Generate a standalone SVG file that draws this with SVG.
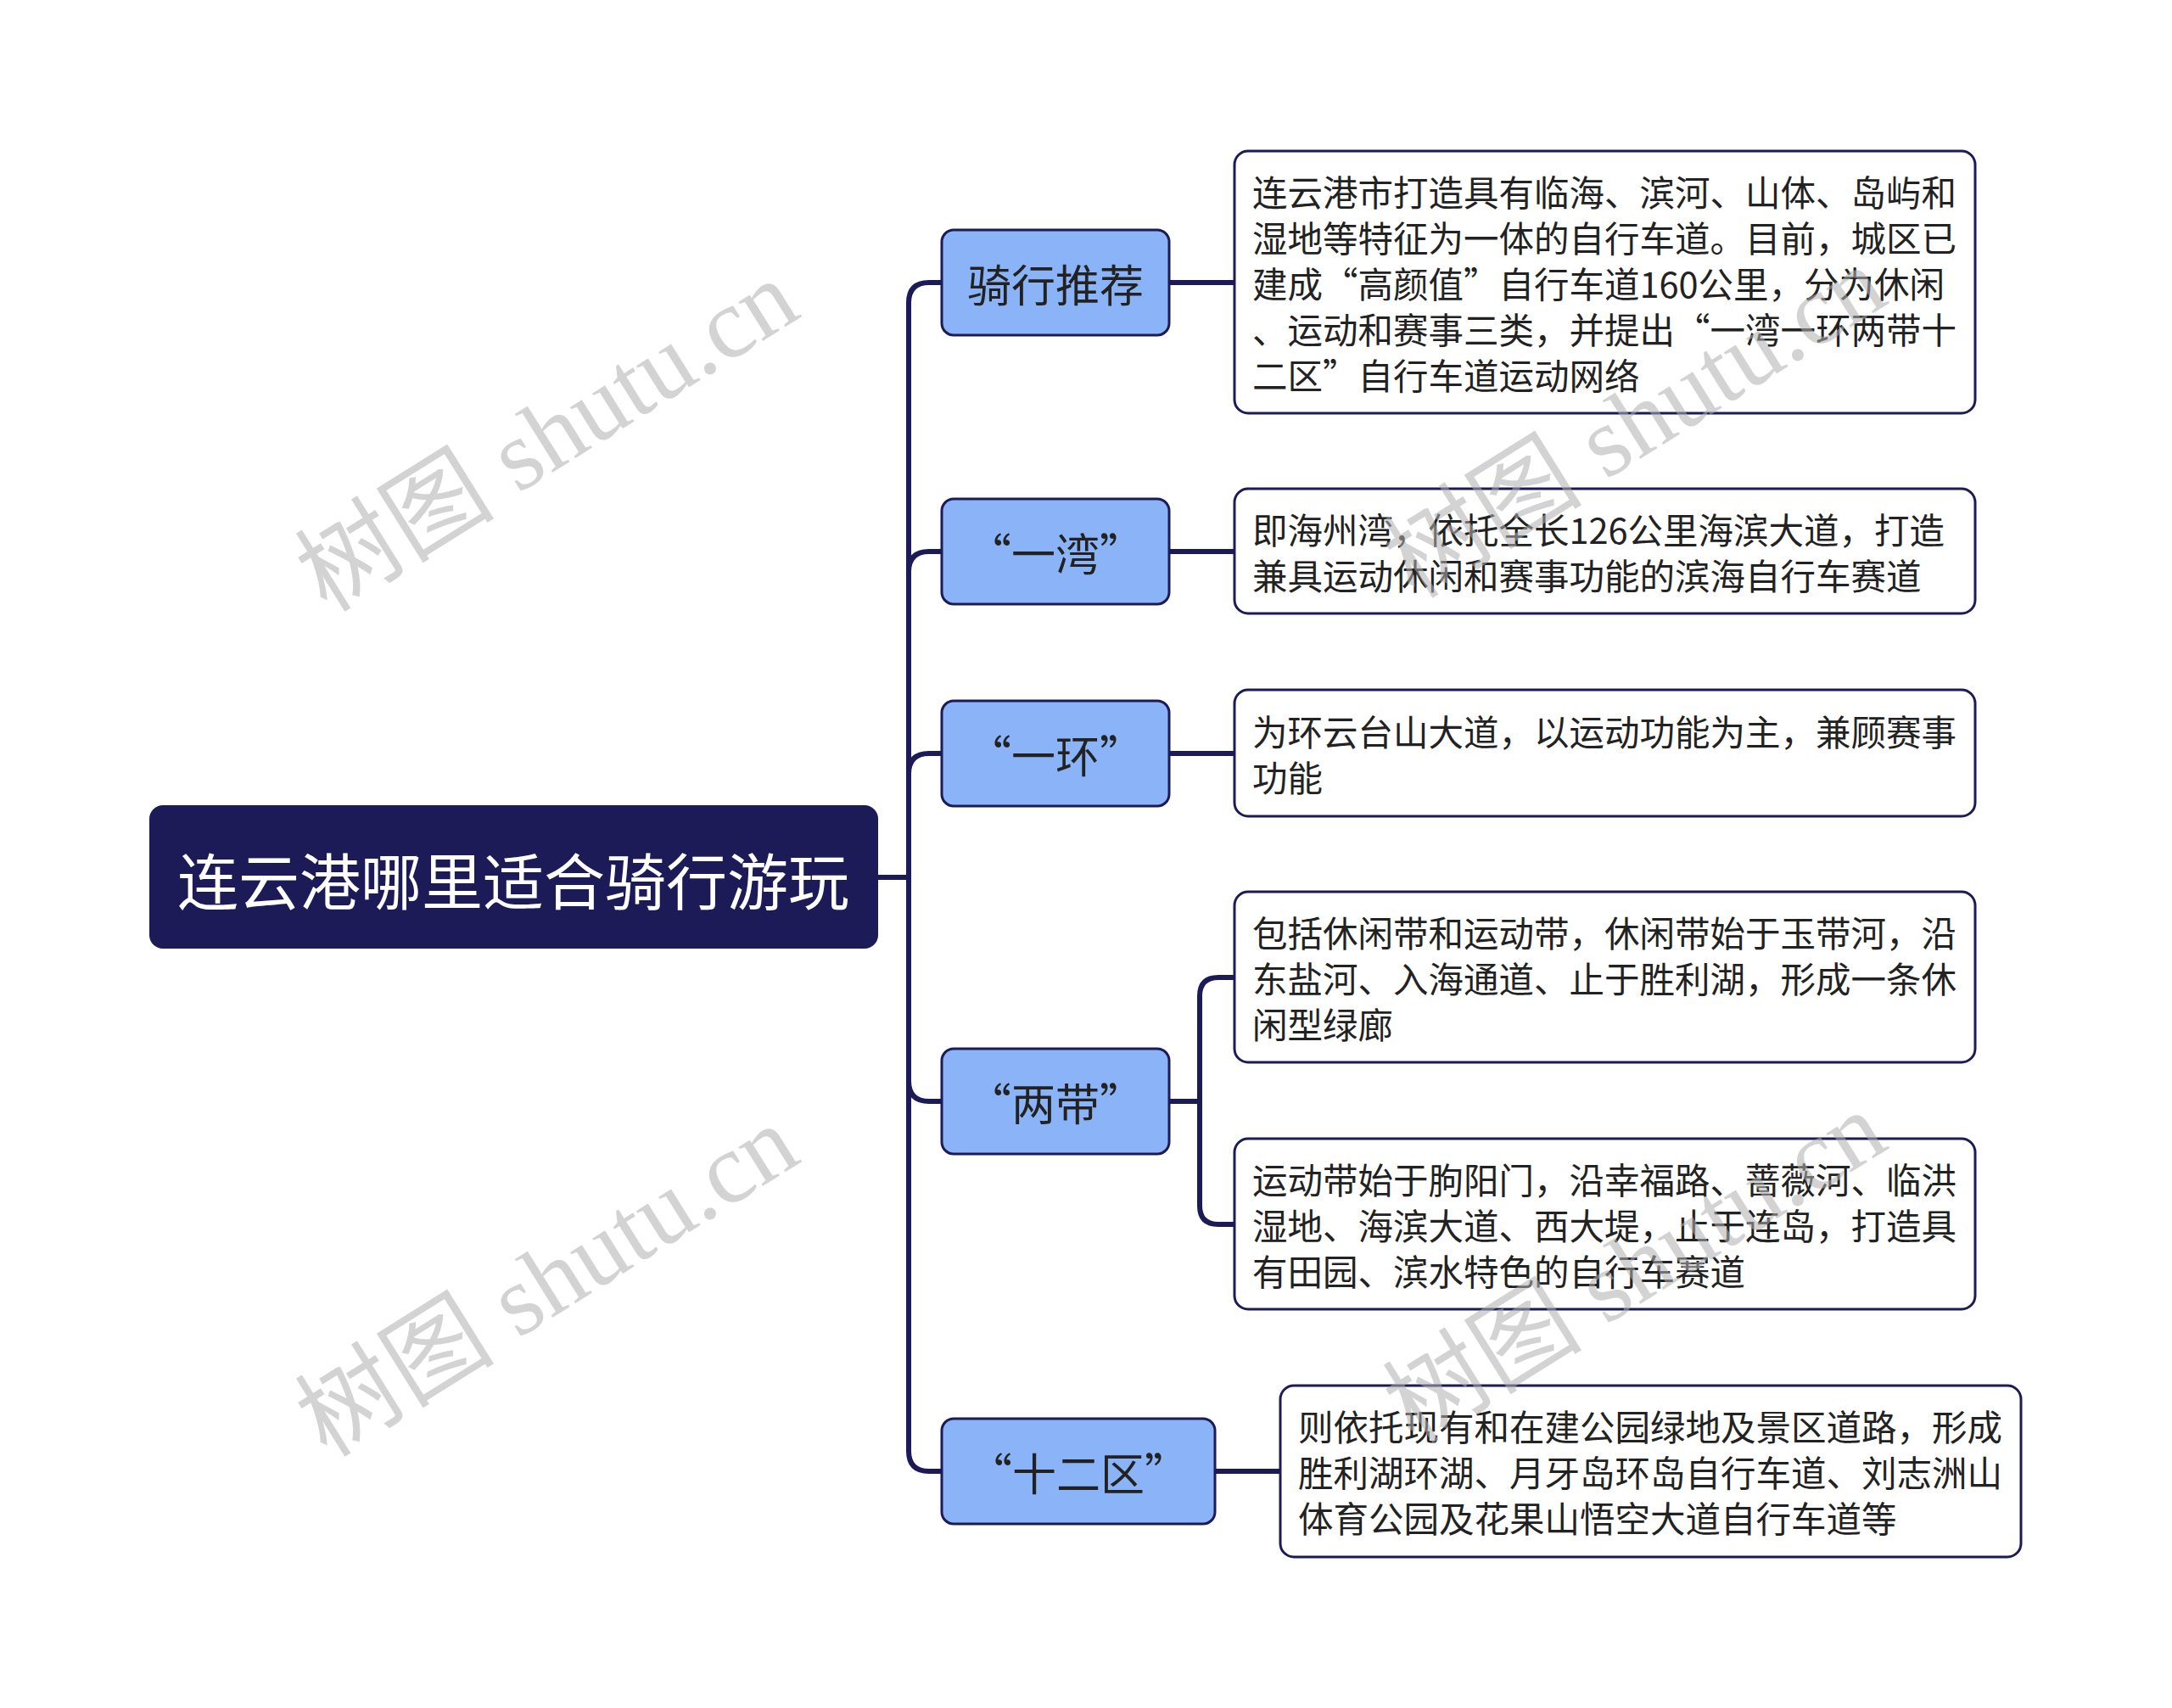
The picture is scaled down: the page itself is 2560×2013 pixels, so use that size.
<svg xmlns="http://www.w3.org/2000/svg" width="2560" height="2013" viewBox="0 0 2560 2013">
<style>
.root{fill:#1c1a57;}
.rt{fill:#ffffff;font-family:"Noto Sans CJK SC","Noto Sans",sans-serif;font-size:72px;text-anchor:middle;dominant-baseline:central;}
.c1{fill:#8bb4f8;stroke:#1c1a57;stroke-width:3;}
.t1{fill:#222222;font-family:"Noto Sans CJK SC","Noto Sans",sans-serif;font-size:52px;text-anchor:middle;dominant-baseline:central;}
.c2{fill:#ffffff;stroke:#1c1a57;stroke-width:3;}
.t2{fill:#222222;font-family:"Noto Sans CJK SC","Noto Sans",sans-serif;font-size:41.5px;dominant-baseline:central;}
.ln{fill:none;stroke:#1c1a57;stroke-width:6;stroke-linecap:round;stroke-linejoin:round;}
.wm{fill:#b0b0b0;opacity:0.55;font-family:"Liberation Serif","Noto Sans CJK SC",serif;font-size:118px;text-anchor:middle;dominant-baseline:central;}
</style>
<rect width="2560" height="2013" fill="#ffffff"/>
<g id="connectors">
<path class="ln" d="M1035 1034 H1071"/>
<path class="ln" d="M1071 1034 V357 Q1071 333 1095 333 H1110"/>
<path class="ln" d="M1071 1034 V674 Q1071 650 1095 650 H1110"/>
<path class="ln" d="M1071 1034 V912 Q1071 888 1095 888 H1110"/>
<path class="ln" d="M1071 1034 V1274 Q1071 1298 1095 1298 H1110"/>
<path class="ln" d="M1071 1034 V1710 Q1071 1734 1095 1734 H1110"/>
<path class="ln" d="M1378 333 H1455"/>
<path class="ln" d="M1378 650 H1455"/>
<path class="ln" d="M1378 888 H1455"/>
<path class="ln" d="M1378 1298 H1414"/>
<path class="ln" d="M1414 1298 V1174 Q1414 1152 1436 1152 H1455"/>
<path class="ln" d="M1414 1298 V1421 Q1414 1443 1436 1443 H1455"/>
<path class="ln" d="M1432 1734 H1509"/>
</g>
<g id="root">
<rect class="root" x="176" y="949" width="859" height="169" rx="16"/>
<text class="rt" x="605" y="1034">连云港哪里适合骑行游玩</text>
</g>
<g id="n1">
<rect class="c1" x="1110" y="271" width="268" height="124" rx="14"/>
<text class="t1" x="1244" y="333">骑行推荐</text>
</g>
<g id="n2">
<rect class="c1" x="1110" y="588" width="268" height="124" rx="14"/>
<text class="t1" x="1244" y="650">“一湾”</text>
</g>
<g id="n3">
<rect class="c1" x="1110" y="826" width="268" height="124" rx="14"/>
<text class="t1" x="1244" y="888">“一环”</text>
</g>
<g id="n4">
<rect class="c1" x="1110" y="1236" width="268" height="124" rx="14"/>
<text class="t1" x="1244" y="1298">“两带”</text>
</g>
<g id="n5">
<rect class="c1" x="1110" y="1672" width="322" height="124" rx="14"/>
<text class="t1" x="1271" y="1734">“十二区”</text>
</g>
<g id="d1">
<rect class="c2" x="1455" y="178" width="873" height="309" rx="16"/>
<text class="t2" x="1476" y="225">连云港市打造具有临海、滨河、山体、岛屿和</text>
<text class="t2" x="1476" y="279">湿地等特征为一体的自行车道。目前，城区已</text>
<text class="t2" x="1476" y="333">建成“高颜值”自行车道160公里，分为休闲</text>
<text class="t2" x="1476" y="387">、运动和赛事三类，并提出“一湾一环两带十</text>
<text class="t2" x="1476" y="441">二区”自行车道运动网络</text>
</g>
<g id="d2">
<rect class="c2" x="1455" y="576" width="873" height="147" rx="16"/>
<text class="t2" x="1476" y="623">即海州湾，依托全长126公里海滨大道，打造</text>
<text class="t2" x="1476" y="677">兼具运动休闲和赛事功能的滨海自行车赛道</text>
</g>
<g id="d3">
<rect class="c2" x="1455" y="813" width="873" height="149" rx="16"/>
<text class="t2" x="1476" y="861">为环云台山大道，以运动功能为主，兼顾赛事</text>
<text class="t2" x="1476" y="915">功能</text>
</g>
<g id="d4">
<rect class="c2" x="1455" y="1051" width="873" height="201" rx="16"/>
<text class="t2" x="1476" y="1098">包括休闲带和运动带，休闲带始于玉带河，沿</text>
<text class="t2" x="1476" y="1152">东盐河、入海通道、止于胜利湖，形成一条休</text>
<text class="t2" x="1476" y="1206">闲型绿廊</text>
</g>
<g id="d5">
<rect class="c2" x="1455" y="1342" width="873" height="201" rx="16"/>
<text class="t2" x="1476" y="1389">运动带始于朐阳门，沿幸福路、蔷薇河、临洪</text>
<text class="t2" x="1476" y="1443">湿地、海滨大道、西大堤，止于连岛，打造具</text>
<text class="t2" x="1476" y="1497">有田园、滨水特色的自行车赛道</text>
</g>
<g id="d6">
<rect class="c2" x="1509" y="1633" width="873" height="202" rx="16"/>
<text class="t2" x="1530" y="1680">则依托现有和在建公园绿地及景区道路，形成</text>
<text class="t2" x="1530" y="1734">胜利湖环湖、月牙岛环岛自行车道、刘志洲山</text>
<text class="t2" x="1530" y="1788">体育公园及花果山悟空大道自行车道等</text>
</g>
<g id="watermarks">
<text class="wm" transform="translate(645 514) rotate(-32)">树图 shutu.cn</text>
<text class="wm" transform="translate(645 1510) rotate(-32)">树图 shutu.cn</text>
<text class="wm" transform="translate(1927 498) rotate(-32)">树图 shutu.cn</text>
<text class="wm" transform="translate(1927 1494) rotate(-32)">树图 shutu.cn</text>
</g>
</svg>
